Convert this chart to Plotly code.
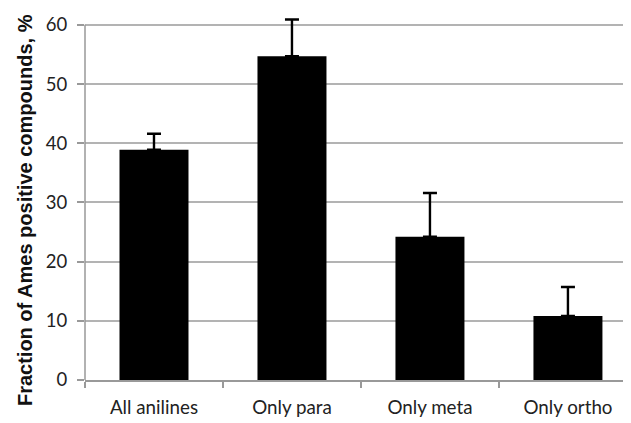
import plotly.graph_objects as go

categories = ["All anilines", "Only para", "Only meta", "Only ortho"]
values = [38.9, 54.7, 24.2, 10.8]
errors = [2.7, 6.2, 7.4, 4.9]
y_ticks = [0, 10, 20, 30, 40, 50, 60]
y_title = "Fraction of Ames positive compounds, %"

fig = go.Figure(go.Bar(
    x=categories, y=values, width=0.5,
    marker=dict(color="black", line=dict(width=0)),
    cliponaxis=False,
    error_y=dict(type="data", symmetric=False, array=errors,
                 arrayminus=[0] * len(errors),
                 color="black", thickness=2.4, width=7),
))

fig.update_layout(
    width=623, height=415,
    margin=dict(l=77, r=0, t=5, b=43),
    plot_bgcolor="white", paper_bgcolor="white",
    showlegend=False,
    font=dict(family="Lato, Open Sans, sans-serif", size=18.5, color="#222"),
)
fig.update_xaxes(
    range=[-0.5, 3.457], tickson="boundaries",
    ticks="outside", ticklen=6, tickcolor="#999", tickwidth=1.5,
    showline=True, linecolor="#999", linewidth=1.5,
    showgrid=False, tickfont=dict(size=18.8), ticklabelstandoff=10,
    automargin=False,
)
fig.update_yaxes(
    range=[0, 62], tickvals=y_ticks,
    ticks="outside", ticklen=7, tickcolor="#999", tickwidth=1.5,
    showline=False,
    showgrid=True, gridcolor="#b3b3b3", gridwidth=1.5,
    zeroline=False, tickfont=dict(size=18.5), ticklabelstandoff=6,
    automargin=False,
)
# y-axis line spanning only the tick range
fig.add_shape(type="line", xref="paper", yref="y", x0=0, x1=0,
              y0=y_ticks[0], y1=y_ticks[-1],
              line=dict(color="#999", width=1.5), layer="above")
fig.add_annotation(
    text="<b>" + y_title + "</b>", textangle=-90,
    xref="paper", yref="paper", x=0, y=0.463, xanchor="center", yanchor="middle",
    xshift=-60, showarrow=False,
    font=dict(family="Liberation Sans, Arial, sans-serif", size=20, color="#111"),
)

fig.write_html("out.html")
